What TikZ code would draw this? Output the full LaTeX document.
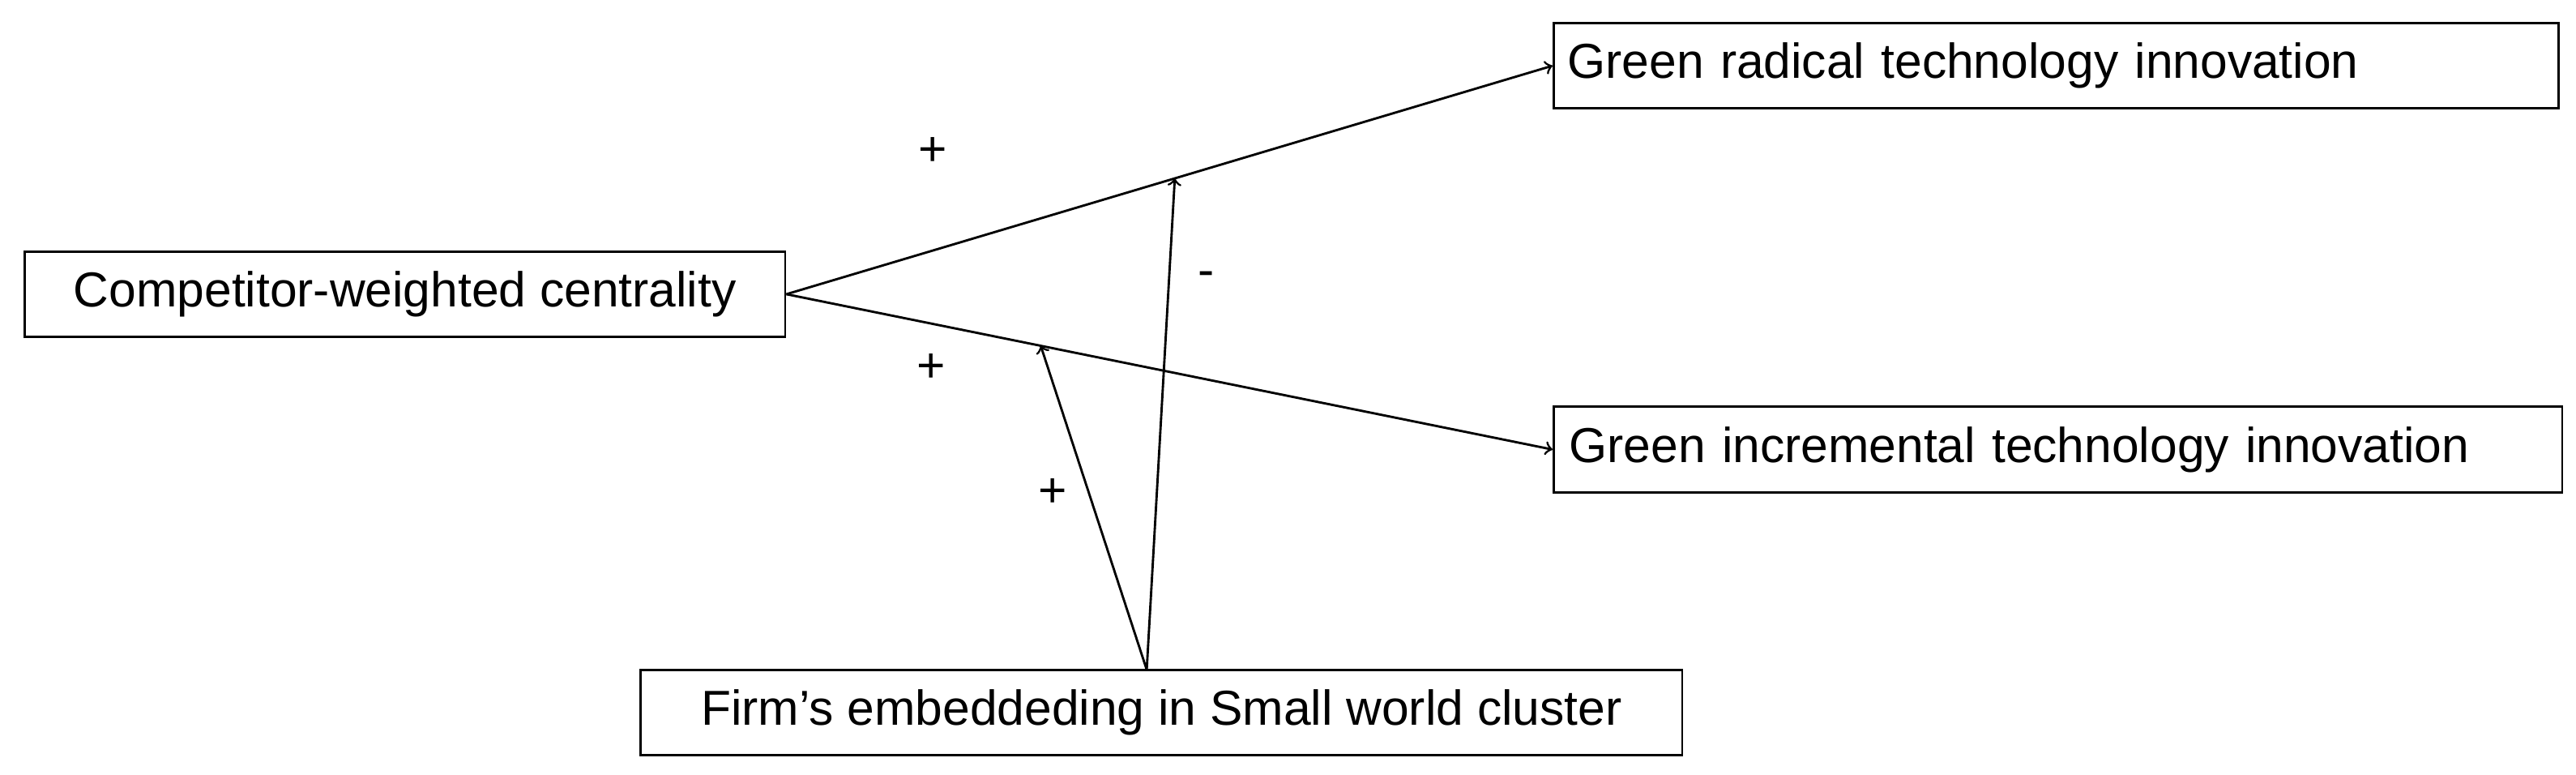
\documentclass[tikz,border=0pt]{standalone}
\usepackage{fontspec}
\setmainfont{Liberation Sans}
\begin{document}
\begin{tikzpicture}[x=0.02cm,y=-0.02cm,
    box/.style={draw, thick, inner sep=0pt, minimum height=1.04cm, font=\fontsize{17}{20}\selectfont},
    sign/.style={font=\fontsize{17}{20}\selectfont}]
        \useasboundingbox (0,0) rectangle (1568,471.5);
        \node[box, minimum width=9.26cm] (comp) at (246.5,179) {Competitor-weighted centrality};
        \node[box, minimum width=12.24cm, anchor=west, align=left, text width=11.9cm] (rad) at (945,40) {Green radical technology innovation};
        \node[box, minimum width=12.28cm, anchor=west, align=left, text width=11.9cm] (inc) at (945,273.5) {Green incremental technology innovation};
        \node[box, minimum width=12.68cm] (firm) at (707,433.5) {Firm’s embeddeding in Small world cluster};
        \draw[thick, ->] (comp.east) -- (rad.west) coordinate[pos=0.507] (mrad);
        \draw[thick, ->] (comp.east) -- (inc.west) coordinate[pos=0.332] (minc);
        \coordinate (ftop) at (698,407.5);
        \draw[thick, ->] (ftop) -- (mrad);
        \draw[thick, ->] (ftop) -- (minc);
        \node[sign] (p1) at (568,92) {+};
        \node[sign] (p2) at (567,224) {+};
        \node[sign] (m1) at (734,170) {-};
        \node[sign] (p3) at (641,300) {+};
    \end{tikzpicture}
\end{document}
